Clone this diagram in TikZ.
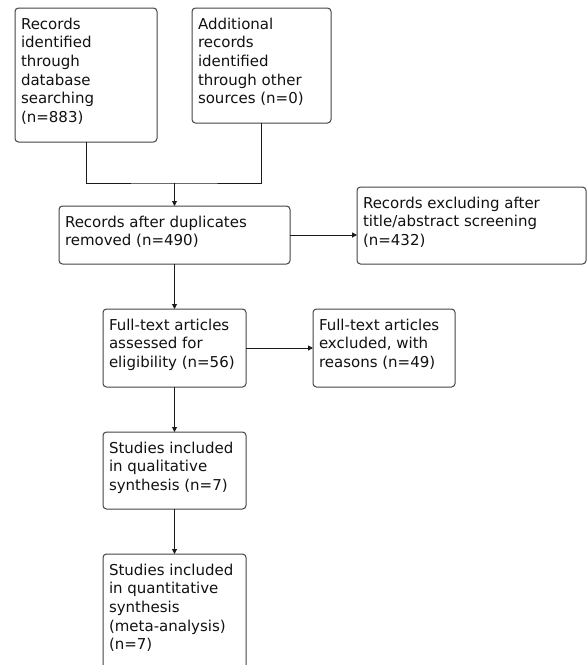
\documentclass[tikz,border=0pt]{standalone}
\usepackage{fontspec}
\setmainfont{DejaVu Sans}
\usetikzlibrary{arrows.meta}
\definecolor{boxc}{HTML}{444444}
\definecolor{linec}{HTML}{1A1A1A}
\definecolor{txtc}{HTML}{111111}
\newcommand{\bxt}[3]{\parbox[c][#2pt][t]{\dimexpr#1pt-12pt\relax}{\raggedright\fontsize{15}{18.7}\selectfont\rule{0pt}{21pt}#3}}
\begin{document}
\begin{tikzpicture}[x=1pt,y=-1pt,
  pbox/.style={draw=boxc, line width=1pt, rounded corners=3.5pt, inner xsep=6pt, inner ysep=0pt, outer sep=0pt, anchor=north west, text=txtc},
  conn/.style={draw=linec, line width=1pt},
  arr/.style={conn, -{Triangle[length=5pt,width=5pt]}}]
\useasboundingbox (0,0) rectangle (587,665);
\clip (0,0) rectangle (587,665);
\node[pbox] (b1) at (15,8) {\bxt{142}{134}{Records\\identified\\through\\database\\searching\\(n=883)}};
\node[pbox] (b2) at (192,8) {\bxt{139}{115}{Additional\\records\\identified\\through other\\sources (n=0)}};
\node[pbox] (b3) at (59,206) {\bxt{231}{58}{Records after duplicates\\removed (n=490)}};
\node[pbox] (b4) at (357,187) {\bxt{229}{77}{Records excluding after\\title/abstract screening\\(n=432)}};
\node[pbox] (b5) at (103,309) {\bxt{143}{78}{Full-text articles\\assessed for\\eligibility (n=56)}};
\node[pbox] (b6) at (313,309) {\bxt{142}{78}{Full-text articles\\excluded, with\\reasons (n=49)}};
\node[pbox] (b7) at (103,432) {\bxt{143}{77}{Studies included\\in qualitative\\synthesis (n=7)}};
\node[pbox] (b8) at (103,554) {\bxt{143}{130}{Studies included\\in quantitative\\synthesis\\(meta-analysis)\\(n=7)}};
\coordinate (j) at (174.5,183);
\draw[conn] (b1.south) |- (j) -| (b2.south);
\draw[arr] (j) -- (b3.north);
\draw[arr] (b3.east) -- (b3.east -| b4.west);
\draw[arr] (b3.south) -- (b5.north);
\draw[arr] (b5.east) -- (b6.west);
\draw[arr] (b5.south) -- (b7.north);
\draw[arr] (b7.south) -- (b8.north);
\end{tikzpicture}
\end{document}
